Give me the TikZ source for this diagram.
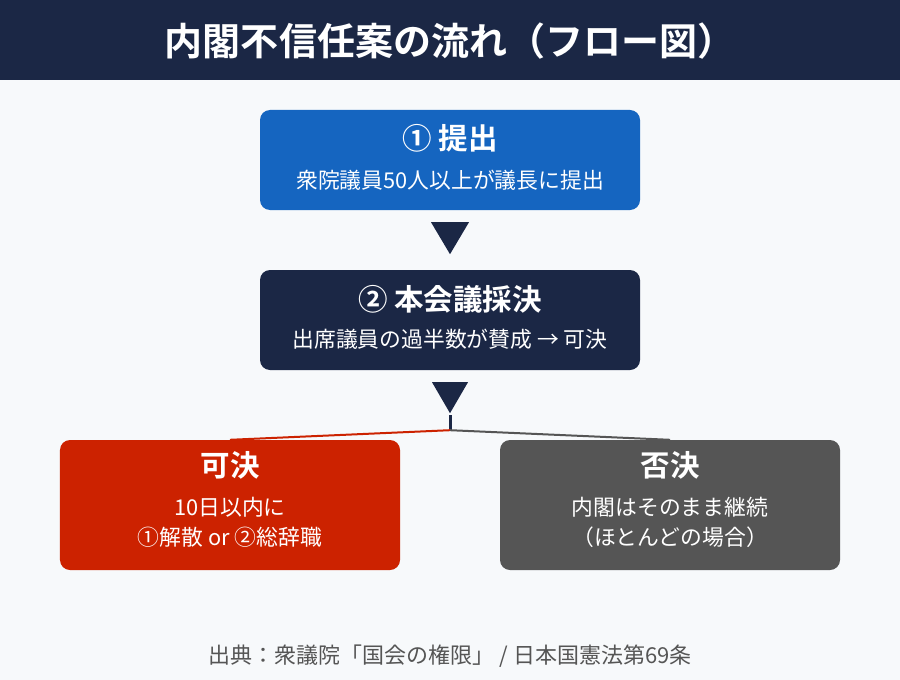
\documentclass[tikz,border=0pt]{standalone}
\usepackage{fontspec}
\setmainfont{Noto Sans CJK JP}[BoldFont={Noto Sans CJK JP Bold}]
\usetikzlibrary{calc}
\definecolor{bg}{HTML}{F7F9FB}
\definecolor{navy}{HTML}{1B2745}
\definecolor{blueb}{HTML}{1565C0}
\definecolor{redb}{HTML}{CC2200}
\definecolor{grayb}{HTML}{555555}
\definecolor{foot}{HTML}{555555}
\tikzset{
  box/.style={rounded corners=10bp, minimum width=#1, inner sep=0pt, draw=none},
  head/.style={text=white, font=\fontsize{29.5bp}{32bp}\selectfont\bfseries, inner sep=0pt},
  sub/.style={text=white, font=\fontsize{21.8bp}{25bp}\selectfont, inner sep=0pt},
  tri/.style={fill=navy},
}
\begin{document}
\begin{tikzpicture}[x=1bp,y=-1bp]
\fill[bg] (0,0) rectangle (900,680);
\useasboundingbox (0,0) rectangle (900,680);
\fill[navy] (0,0) rectangle (900,80);
\node[text=white, font=\fontsize{38bp}{42bp}\selectfont\bfseries, inner sep=0pt] (title) at (450,41) {内閣不信任案の流れ（フロー図）};
% box 1
\node[box=380bp, minimum height=100bp, fill=blueb] (b1) at (450,160) {};
\node[head] (b1h) at (450,138) {① 提出};
\node[sub] (b1s) at (450,180) {衆院議員50人以上が議長に提出};
% box 2
\node[box=380bp, minimum height=100bp, fill=navy] (b2) at (450,320) {};
\node[head] (b2h) at (450,299) {② 本会議採決};
\node[sub] (b2s) at (450,339) {出席議員の過半数が賛成 → 可決};
% triangles
\fill[tri] ($(b1.south)+(-19,12)$) -- ($(b1.south)+(19,12)$) -- ($(b1.south)+(0,44)$) -- cycle;
\fill[tri] ($(b2.south)+(-18,12)$) -- ($(b2.south)+(18,12)$) -- ($(b2.south)+(0,43)$) -- cycle;
% box 3, 4
\node[box=340bp, minimum height=130bp, fill=redb] (b3) at (230,505) {};
\node[head] (b3h) at (230,465) {可決};
\node[sub] (b3s1) at (230,507) {10日以内に};
\node[sub] (b3s2) at (230,537) {①解散 or ②総辞職};
\node[box=340bp, minimum height=130bp, fill=grayb] (b4) at (670,505) {};
\node[head] (b4h) at (670,465) {否決};
\node[sub] (b4s1) at (670,507) {内閣はそのまま継続};
\node[sub] (b4s2) at (670,537) {（ほとんどの場合）};
% connectors
\coordinate (stub) at ($(b2.south)+(0,45)$);
\coordinate (j) at ($(b2.south)+(0,60)$);
\draw[navy, line width=3bp] (stub) -- (j);
\draw[redb, line width=2bp] (j) -- (b3.north);
\draw[grayb, line width=2bp] (j) -- (b4.north);
% footer
\node[text=foot, font=\fontsize{22bp}{25bp}\selectfont, inner sep=0pt] (src) at (450,656) {出典：衆議院「国会の権限」 / 日本国憲法第69条};
\end{tikzpicture}
\end{document}
